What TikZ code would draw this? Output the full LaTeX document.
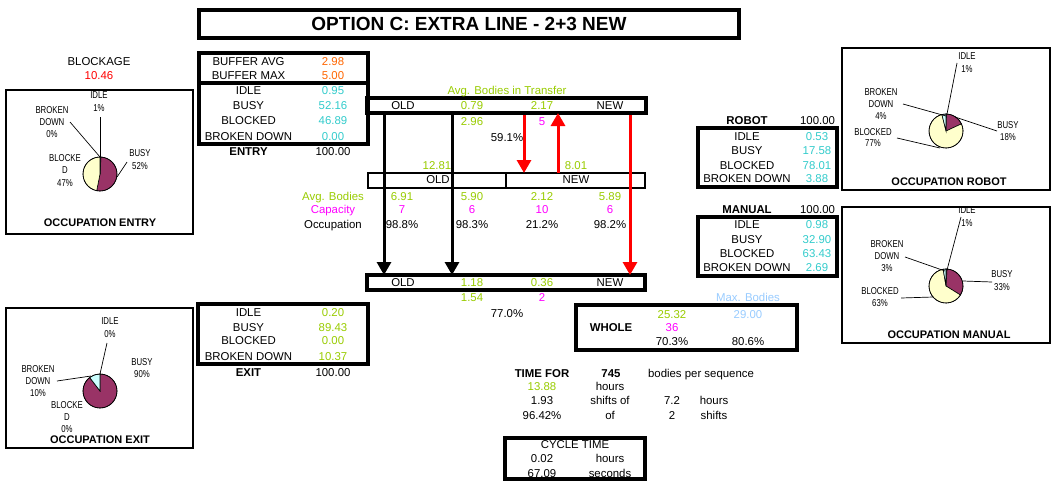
\documentclass[tikz,border=0pt]{standalone}
\usepackage{fontspec}
\setmainfont{Liberation Sans}
\newfontfamily\narrowfont[FakeStretch=0.78]{Liberation Sans}
\usetikzlibrary{arrows.meta}
\definecolor{cgreen}{HTML}{99CC00}
\definecolor{ccyan}{HTML}{33CCCC}
\definecolor{corange}{HTML}{FF6600}
\definecolor{cmag}{HTML}{FF00FF}
\definecolor{cblue}{HTML}{99CCFF}
\definecolor{cred}{HTML}{FF0000}
\definecolor{pidle}{HTML}{9999FF}
\definecolor{pbusy}{HTML}{993366}
\definecolor{pblock}{HTML}{FFFFCC}
\definecolor{pbroken}{HTML}{CCFFFF}
\newcommand{\fs}{\fontsize{11.4}{13}\selectfont}
\newcommand{\cfs}{\narrowfont\fontsize{10}{11}\selectfont}
\tikzset{
 t/.style={font=\fs, inner sep=0pt, anchor=base},
 tb/.style={font=\fs\bfseries, inner sep=0pt, anchor=base},
 cl/.style={font=\cfs, inner sep=0pt, anchor=base},
 ct/.style={font=\fontsize{11}{13}\selectfont\bfseries, inner sep=0pt, anchor=base},
 titlet/.style={font=\fontsize{19}{22}\selectfont\bfseries, inner sep=0pt, anchor=base},
 tbox/.style={draw, line width=3.2pt},
 mbox/.style={draw, line width=2.2pt},
 cbox/.style={draw, line width=1.5pt},
 leader/.style={draw, line width=0.7pt},
 slice/.style={draw, line width=0.6pt},
 barr/.style={draw, line width=3pt, -{Triangle[width=14pt,length=13pt]}},
 rarr/.style={draw=cred, line width=3pt, -{Triangle[width=14pt,length=13pt]}},
}
\newcommand{\piechart}[6]{%
 \begin{scope}[shift={(#1,#2)}, yscale=-1]
  \pgfmathsetmacro\pa{90}
  \pgfmathsetmacro\pb{90-3.6*#3}
  \pgfmathsetmacro\pc{\pb-3.6*#4}
  \pgfmathsetmacro\pd{\pc-3.6*#5}
  \pgfmathsetmacro\pe{\pd-3.6*#6}
  \filldraw[slice, fill=pidle] (0,0) -- (\pa:17) arc[start angle=\pa, end angle=\pb, radius=17] -- cycle;
  \filldraw[slice, fill=pbusy] (0,0) -- (\pb:17) arc[start angle=\pb, end angle=\pc, radius=17] -- cycle;
  \filldraw[slice, fill=pblock] (0,0) -- (\pc:17) arc[start angle=\pc, end angle=\pd, radius=17] -- cycle;
  \filldraw[slice, fill=pbroken] (0,0) -- (\pd:17) arc[start angle=\pd, end angle=\pe, radius=17] -- cycle;
  \draw[slice] (0,0) circle[radius=17];
 \end{scope}}
\begin{document}
\begin{tikzpicture}[x=1pt,y=-1pt]
\useasboundingbox[fill=white] (0,0) rectangle (1056,482);

% ---------- title ----------
\draw[tbox] (199,10) rectangle (739,38);
\node[titlet] (title) at (469,30.5) {OPTION C: EXTRA LINE - 2+3 NEW};

% ---------- blockage ----------
\node[t] (blk) at (99,65) {BLOCKAGE};
\node[t, cred] (blkv) at (99,79) {10.46};

% ---------- entry chart ----------
\draw[cbox] (6,90) rectangle (193,234);
\piechart{100}{174}{0.95}{52.16}{46.89}{0}
\coordinate (eI1) at (100,117); \coordinate (eI2) at (100,157);
\coordinate (eB1) at (70,122);  \coordinate (eB2) at (100,157);
\coordinate (eU1) at (127,162); \coordinate (eU2) at (117,177);
\draw[leader] (eI1) -- (eI2);
\draw[leader] (eB1) -- (eB2);
\draw[leader] (eU1) -- (eU2);
\node[cl] (eL1) at (99,98.5) {IDLE};
\node[cl] (eL2) at (99,111.5) {1\%};
\node[cl] (eL3) at (52,113.5) {BROKEN};
\node[cl] (eL4) at (52,125.5) {DOWN};
\node[cl] (eL5) at (52,137.5) {0\%};
\node[cl] (eL6) at (65,161.5) {BLOCKE};
\node[cl] (eL7) at (65,173.5) {D};
\node[cl] (eL8) at (65,186.5) {47\%};
\node[cl] (eL9) at (140,156.5) {BUSY};
\node[cl] (eL10) at (140,169.5) {52\%};
\node[ct] (eT) at (100,226) {OCCUPATION ENTRY};

% ---------- entry table ----------
\draw[tbox] (199,53) rectangle (368,144);
\draw[tbox] (199,83) -- (368,83);
\node[t] (en1) at (248.5,65) {BUFFER AVG};
\node[t, corange] (ev1) at (333,65) {2.98};
\node[t] (en2) at (248.5,79) {BUFFER MAX};
\node[t, corange] (ev2) at (333,79) {5.00};
\node[t] (en3) at (248.5,94) {IDLE};
\node[t, ccyan] (ev3) at (333,94) {0.95};
\node[t] (en4) at (248.5,109) {BUSY};
\node[t, ccyan] (ev4) at (333,109) {52.16};
\node[t] (en5) at (248.5,124) {BLOCKED};
\node[t, ccyan] (ev5) at (333,124) {46.89};
\node[t] (en6) at (248.5,140) {BROKEN DOWN};
\node[t, ccyan] (ev6) at (333,140) {0.00};
\node[tb] (en7) at (248.5,155) {ENTRY};
\node[t] (ev7) at (333,155) {100.00};

% ---------- transfer line (top) ----------
\draw[tbox] (367,98) rectangle (646,113);
\node[t, cgreen] (abt) at (507,94) {Avg. Bodies in Transfer};
\node[t] (tl1) at (403,109) {OLD};
\node[t, cgreen] (tl2) at (472,109) {0.79};
\node[t, cgreen] (tl3) at (542,109) {2.17};
\node[t] (tl4) at (610,109) {NEW};
\node[t, cgreen] (tl5) at (472,125) {2.96};
\node[t, cmag] (tl6) at (542,125) {5};
\node[t] (tl7) at (507,141) {59.1\%};

% ---------- buffer (middle) ----------
\draw[mbox] (368,173) rectangle (645,188);
\draw[mbox] (506,173) -- (506,188);
\node[t, cgreen] (ml1) at (437,169) {12.81};
\node[t, cgreen] (ml2) at (576,169) {8.01};
\node[t] (ml3) at (438,183.5) {OLD};
\node[t] (ml4) at (576,183.5) {NEW};
\node[t, cgreen] (r1a) at (333,200) {Avg. Bodies};
\node[t, cgreen] (r1b) at (402,200) {6.91};
\node[t, cgreen] (r1c) at (472,200) {5.90};
\node[t, cgreen] (r1d) at (542,200) {2.12};
\node[t, cgreen] (r1e) at (610,200) {5.89};
\node[t, cmag] (r2a) at (333,213) {Capacity};
\node[t, cmag] (r2b) at (402,213) {7};
\node[t, cmag] (r2c) at (472,213) {6};
\node[t, cmag] (r2d) at (542,213) {10};
\node[t, cmag] (r2e) at (610,213) {6};
\node[t] (r3a) at (333,228) {Occupation};
\node[t] (r3b) at (402,228) {98.8\%};
\node[t] (r3c) at (472,228) {98.3\%};
\node[t] (r3d) at (542,228) {21.2\%};
\node[t] (r3e) at (610,228) {98.2\%};

% ---------- bottom line ----------
\draw[tbox] (367,275) rectangle (645,290);
\node[t] (bl1) at (403,286) {OLD};
\node[t, cgreen] (bl2) at (472,286) {1.18};
\node[t, cgreen] (bl3) at (542,286) {0.36};
\node[t] (bl4) at (610,286) {NEW};
\node[t, cgreen] (bl5) at (472,301) {1.54};
\node[t, cmag] (bl6) at (542,301) {2};
\node[t] (bl7) at (507,317) {77.0\%};

% ---------- arrows ----------
\coordinate (k1s) at (384,113); \coordinate (k1e) at (384,275);
\coordinate (k2s) at (452,113); \coordinate (k2e) at (452,275);
\coordinate (q1s) at (524,115); \coordinate (q1e) at (524,173);
\coordinate (q2s) at (558,173); \coordinate (q2e) at (558,113);
\coordinate (q3s) at (630,115); \coordinate (q3e) at (630,275);
\draw[barr] (k1s) -- (k1e);
\draw[barr] (k2s) -- (k2e);
\draw[rarr] (q1s) -- (q1e);
\draw[rarr] (q2s) -- (q2e);
\draw[rarr] (q3s) -- (q3e);

% ---------- whole ----------
\draw[tbox] (576,305) rectangle (797,350);
\node[t, cblue] (w1) at (748,301) {Max. Bodies};
\node[t, cgreen] (w2) at (672,318) {25.32};
\node[t, cblue] (w3) at (748,318) {29.00};
\node[tb] (w4) at (611,331) {WHOLE};
\node[t, cmag] (w5) at (672,331) {36};
\node[t] (w6) at (672,345) {70.3\%};
\node[t] (w7) at (748,345) {80.6\%};

% ---------- time ----------
\node[tb] (ti1) at (542,377) {TIME FOR};
\node[tb] (ti2) at (611,377) {745};
\node[t] (ti3) at (701,377) {bodies per sequence};
\node[t, cgreen] (ti4) at (542,390) {13.88};
\node[t] (ti5) at (610,390) {hours};
\node[t] (ti6) at (542,404) {1.93};
\node[t] (ti7) at (610,404) {shifts of};
\node[t] (ti8) at (672,404) {7.2};
\node[t] (ti9) at (714,404) {hours};
\node[t] (ti10) at (542,419) {96.42\%};
\node[t] (ti11) at (610,419) {of};
\node[t] (ti12) at (672,419) {2};
\node[t] (ti13) at (714,419) {shifts};

% ---------- cycle time ----------
\draw[tbox] (505,438) rectangle (645,479);
\node[t] (cy1) at (575,448) {CYCLE TIME};
\node[t] (cy2) at (542,462) {0.02};
\node[t] (cy3) at (610,462) {hours};
\node[t] (cy4) at (542,477) {67.09};
\node[t] (cy5) at (610,477) {seconds};

% ---------- exit table ----------
\draw[tbox] (198,304) rectangle (368,364);
\node[t] (xn1) at (248.5,316) {IDLE};
\node[t, cgreen] (xv1) at (333,316) {0.20};
\node[t] (xn2) at (248.5,331) {BUSY};
\node[t, cgreen] (xv2) at (333,331) {89.43};
\node[t] (xn3) at (248.5,344.5) {BLOCKED};
\node[t, cgreen] (xv3) at (333,344.5) {0.00};
\node[t] (xn4) at (248.5,360) {BROKEN DOWN};
\node[t, cgreen] (xv4) at (333,360) {10.37};
\node[tb] (xn5) at (248.5,376) {EXIT};
\node[t] (xv5) at (333,376) {100.00};

% ---------- exit chart ----------
\draw[cbox] (6,308) rectangle (193,448);
\piechart{100}{391}{0.20}{89.43}{0}{10.37}
\coordinate (xI1) at (107,343); \coordinate (xI2) at (100,374);
\coordinate (xB1) at (57,381);  \coordinate (xB2) at (91,376);
\draw[leader] (xI1) -- (xI2);
\draw[leader] (xB1) -- (xB2);
\node[cl] (xL1) at (110,324.5) {IDLE};
\node[cl] (xL2) at (110,337) {0\%};
\node[cl] (xL3) at (142,365.5) {BUSY};
\node[cl] (xL4) at (142,377.5) {90\%};
\node[cl] (xL5) at (38,372.5) {BROKEN};
\node[cl] (xL6) at (38,384.5) {DOWN};
\node[cl] (xL7) at (38,396.5) {10\%};
\node[cl] (xL8) at (67,408.5) {BLOCKE};
\node[cl] (xL9) at (67,420.5) {D};
\node[cl] (xL10) at (67,432) {0\%};
\node[ct] (xT) at (100,443) {OCCUPATION EXIT};

% ---------- robot table ----------
\node[tb] (rb0) at (747,124) {ROBOT};
\node[t] (rv0) at (817.5,124) {100.00};
\draw[tbox] (698,128) rectangle (837,187);
\node[t] (rb1) at (747,140) {IDLE};
\node[t, ccyan] (rv1) at (817,140) {0.53};
\node[t] (rb2) at (747,154) {BUSY};
\node[t, ccyan] (rv2) at (817,154) {17.58};
\node[t] (rb3) at (747,169) {BLOCKED};
\node[t, ccyan] (rv3) at (817,169) {78.01};
\node[t] (rb4) at (747,182) {BROKEN DOWN};
\node[t, ccyan] (rv4) at (817,182) {3.88};

% ---------- robot chart ----------
\draw[cbox] (842,48) rectangle (1050,190);
\piechart{946}{131}{0.53}{17.58}{78.01}{3.88}
\coordinate (rI1) at (957,63);  \coordinate (rI2) at (947,114);
\coordinate (rB1) at (903,104); \coordinate (rB2) at (946,116);
\coordinate (rU1) at (997,131); \coordinate (rU2) at (955,117);
\coordinate (rK1) at (897,138); \coordinate (rK2) at (940,148);
\draw[leader] (rI1) -- (rI2);
\draw[leader] (rB1) -- (rB2);
\draw[leader] (rU1) -- (rU2);
\draw[leader] (rK1) -- (rK2);
\node[cl] (rL1) at (967,59.5) {IDLE};
\node[cl] (rL2) at (967,72.5) {1\%};
\node[cl] (rL3) at (881,95.5) {BROKEN};
\node[cl] (rL4) at (881,107.5) {DOWN};
\node[cl] (rL5) at (881,119.5) {4\%};
\node[cl] (rL6) at (873,135.5) {BLOCKED};
\node[cl] (rL7) at (873,146.5) {77\%};
\node[cl] (rL8) at (1008,128.5) {BUSY};
\node[cl] (rL9) at (1008,140.5) {18\%};
\node[ct] (rT) at (949,185) {OCCUPATION ROBOT};

% ---------- manual table ----------
\node[tb] (mb0) at (747,213) {MANUAL};
\node[t] (mv0) at (817.5,213) {100.00};
\draw[tbox] (698,217) rectangle (837,276);
\node[t] (mb1) at (747,228) {IDLE};
\node[t, ccyan] (mv1) at (817,228) {0.98};
\node[t] (mb2) at (747,243) {BUSY};
\node[t, ccyan] (mv2) at (817,243) {32.90};
\node[t] (mb3) at (747,257) {BLOCKED};
\node[t, ccyan] (mv3) at (817,257) {63.43};
\node[t] (mb4) at (747,271) {BROKEN DOWN};
\node[t, ccyan] (mv4) at (817,271) {2.69};

% ---------- manual chart ----------
\draw[cbox] (842,207) rectangle (1050,343);
\piechart{946}{286}{0.98}{32.90}{63.43}{2.69}
\coordinate (mI1) at (961,217); \coordinate (mI2) at (947,270);
\coordinate (mB1) at (905,257); \coordinate (mB2) at (945,271);
\coordinate (mU1) at (992,282); \coordinate (mU2) at (963,281);
\coordinate (mK1) at (901,298); \coordinate (mK2) at (933,297);
\draw[leader] (mI1) -- (mI2);
\draw[leader] (mB1) -- (mB2);
\draw[leader] (mU1) -- (mU2);
\draw[leader] (mK1) -- (mK2);
\node[cl] (mL1) at (967,213.5) {IDLE};
\node[cl] (mL2) at (967,226.5) {1\%};
\node[cl] (mL3) at (887,247.5) {BROKEN};
\node[cl] (mL4) at (887,259.5) {DOWN};
\node[cl] (mL5) at (887,271.5) {3\%};
\node[cl] (mL6) at (880,294.5) {BLOCKED};
\node[cl] (mL7) at (880,306.5) {63\%};
\node[cl] (mL8) at (1002,277.5) {BUSY};
\node[cl] (mL9) at (1002,290.5) {33\%};
\node[ct] (mT) at (949,338) {OCCUPATION MANUAL};
\end{tikzpicture}
\end{document}
